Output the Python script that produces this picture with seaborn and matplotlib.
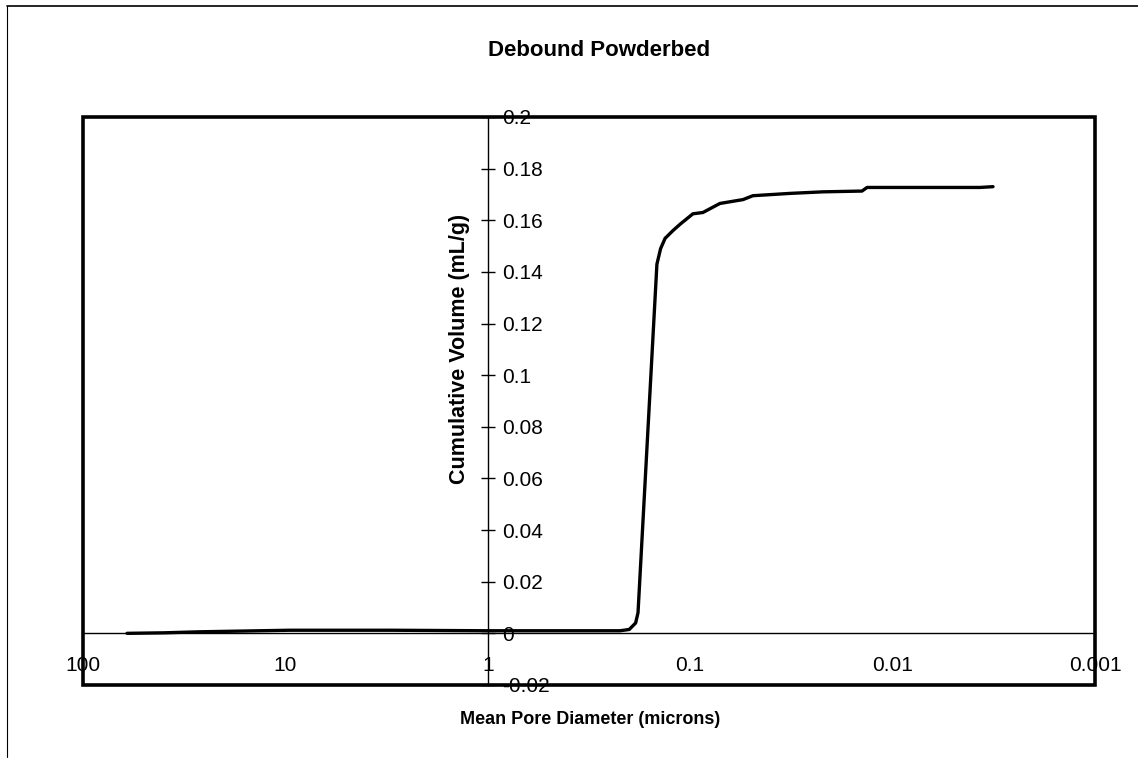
import matplotlib
matplotlib.use("Agg")
import pandas as pd
import matplotlib.pyplot as plt
import seaborn as sns
from matplotlib.patches import Rectangle
from matplotlib.lines import Line2D
from matplotlib.ticker import NullLocator

# Data
diameter = [60.6, 40, 26.4, 9.5, 3, 1, 0.4, 0.222, 0.2, 0.186, 0.181,
            0.146, 0.14, 0.133, 0.1216, 0.112, 0.0969, 0.0865, 0.0713, 0.0548,
            0.049, 0.0321, 0.0221, 0.01416, 0.01337, 0.0037, 0.00319]
volume = [0.0, 0.0002, 0.0006, 0.0012, 0.0012, 0.001, 0.001, 0.001, 0.0015,
          0.004, 0.008, 0.143, 0.149, 0.153, 0.156, 0.1585, 0.1625, 0.163,
          0.1665, 0.168, 0.1695, 0.1704, 0.171, 0.1713, 0.1727, 0.1727, 0.173]

x_ticks = [100, 10, 1, 0.1, 0.01, 0.001]
x_labels = ["100", "10", "1", "0.1", "0.01", "0.001"]
y_ticks = [-0.02, 0, 0.02, 0.04, 0.06, 0.08, 0.1, 0.12, 0.14, 0.16, 0.18, 0.2]
y_labels = ["-0.02", "0", "0.02", "0.04", "0.06", "0.08", "0.1", "0.12",
            "0.14", "0.16", "0.18", "0.2"]

sns.set_style("white")
plt.rcParams["font.family"] = ["Liberation Sans", "DejaVu Sans"]
plt.rcParams["text.color"] = "black"
plt.rcParams["axes.labelcolor"] = "black"
plt.rcParams["xtick.color"] = "black"
plt.rcParams["ytick.color"] = "black"

fig = plt.figure(figsize=(11.38, 7.61), dpi=100)
ax = fig.add_axes([0.0729, 0.0999, 0.8893, 0.7464])
ax.set_xscale("log")

df = pd.DataFrame({"Diameter": diameter, "Volume": volume})
sns.lineplot(data=df, x="Diameter", y="Volume", ax=ax, color="black",
             linewidth=2.4, sort=False)

ax.set_xlim(100, 0.001)
ax.set_ylim(-0.02, 0.2)

# axes crossing at x=1 and y=0
ax.spines["top"].set_visible(False)
ax.spines["left"].set_visible(False)
ax.spines["right"].set_position(("data", 1))
ax.spines["bottom"].set_position(("data", 0))
for s in ["right", "bottom"]:
    ax.spines[s].set_linewidth(1.0)
    ax.spines[s].set_color("black")
ax.yaxis.tick_right()

ax.set_xticks(x_ticks)
ax.set_xticklabels(x_labels)
ax.xaxis.set_minor_locator(NullLocator())
ax.set_yticks(y_ticks)
ax.set_yticklabels(y_labels)
ax.tick_params(axis="both", direction="inout", length=10, width=1,
               color="black", labelsize=15, labelcolor="black")
ax.tick_params(axis="x", pad=11)
ax.tick_params(axis="y", pad=5)

# plot area frame
ax.add_patch(Rectangle((0, 0), 1, 1, transform=ax.transAxes, fill=False,
                       lw=2.6, ec="black", clip_on=False, zorder=5))

ax.set_ylabel("Cumulative Volume (mL/g)", fontsize=15.5, fontweight="bold")
ax.yaxis.set_label_position("left")
ax.yaxis.set_label_coords(0.382, 0.591)
ax.set_xlabel("Mean Pore Diameter (microns)", fontsize=13, fontweight="bold")
ax.xaxis.set_label_coords(0.501, -0.046)
ax.set_title("Debound Powderbed", fontsize=16, fontweight="bold",
             x=0.51, y=1.107, pad=0)

# chart area border (partly cropped in the reference)
fig.add_artist(Line2D([7 / 1138, 7 / 1138], [0.005, 755 / 761],
                      transform=fig.transFigure, lw=0.8, color="black"))
fig.add_artist(Line2D([7 / 1138, 1.0], [755 / 761, 755 / 761],
                      transform=fig.transFigure, lw=1.2, color="black"))

fig.savefig("out.png", dpi=100)
